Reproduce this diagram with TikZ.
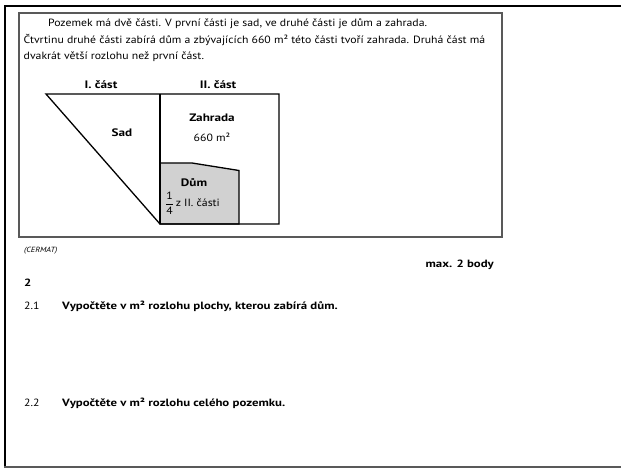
\documentclass[tikz,border=0pt]{standalone}
\usepackage{fontspec}
\setmainfont{PT Sans}[FakeStretch=1.12,BoldFeatures={FakeStretch=1.22}]
\begin{document}
\begin{tikzpicture}[x=1pt,y=-1pt,
  txt/.style={inner sep=0pt,anchor=base west,font=\fontsize{10.5}{12}\selectfont},
  lbl/.style={inner sep=0pt,font=\fontsize{10.5}{12}\selectfont},
  bld/.style={inner sep=0pt,font=\fontsize{10.8}{12}\selectfont\bfseries},
  plotline/.style={line width=1.3pt,line join=miter}]
\useasboundingbox (0,0) rectangle (621,470);
% outer frame
\draw[line width=2.6pt,black] (621,6) -- (5,6) -- (5,468);
\draw[line width=1.4pt,black!65] (4,467) -- (621,467);
% inner box
\draw[line width=1.3pt,black!65] (19,13) rectangle (502,237);
% texts
\node[txt] (t1) at (48,27) {Pozemek má dvě části. V první části je sad, ve druhé části je dům a zahrada.};
\node[txt] (t2) at (23.5,43.5) {Čtvrtinu druhé části zabírá dům a zbývajících 660 m² této části tvoří zahrada. Druhá část má};
\node[txt] (t3) at (23.5,60) {dvakrát větší rozlohu než první část.};
% diagram
\coordinate (A) at (46,94);
\coordinate (B) at (160,94);
\coordinate (C) at (279,94);
\coordinate (D) at (279,224);
\coordinate (E) at (160,224);
\draw[plotline,fill=black!18] (160,163) -- (192,163) -- (239,170.5) -- (239,224) -- (160,224) -- cycle;
\draw[plotline] (A) -- (C) -- (D) -- (E) -- cycle;
\draw[plotline] (B) -- (E);
\node[bld] (l1) at (101,85) {I.\ část};
\node[bld] (l2) at (218,85) {II.\ část};
\node[bld] (sad) at (122,133) {Sad};
\node[bld] (zah) at (212,118) {Zahrada};
\node[lbl] (m2) at (212,137) {660 m²};
\node[bld] (dum) at (194,183) {Dům};
\node[lbl,anchor=west] (frac) at (165,203) {$\displaystyle\frac{\mbox{1}}{\mbox{4}}$\,z II. části};
% below
\node[txt,font=\fontsize{7.5}{9}\selectfont\itshape] (src) at (24,253) {(CERMAT)};
\node[txt,anchor=base east,font=\fontsize{10.5}{12}\selectfont\bfseries] (max) at (494,268) {max. 2 body};
\node[txt,font=\fontsize{10.5}{12}\selectfont\bfseries] (n2) at (24,287) {2};
\node[txt] (q1n) at (24,309) {2.1};
\node[txt,font=\fontsize{10.5}{12}\selectfont\bfseries] (q1) at (62,309) {Vypočtěte v m² rozlohu plochy, kterou zabírá dům.};
\node[txt] (q2n) at (24,406) {2.2};
\node[txt,font=\fontsize{10.5}{12}\selectfont\bfseries] (q2) at (62,406) {Vypočtěte v m² rozlohu celého pozemku.};
\end{tikzpicture}
\end{document}
